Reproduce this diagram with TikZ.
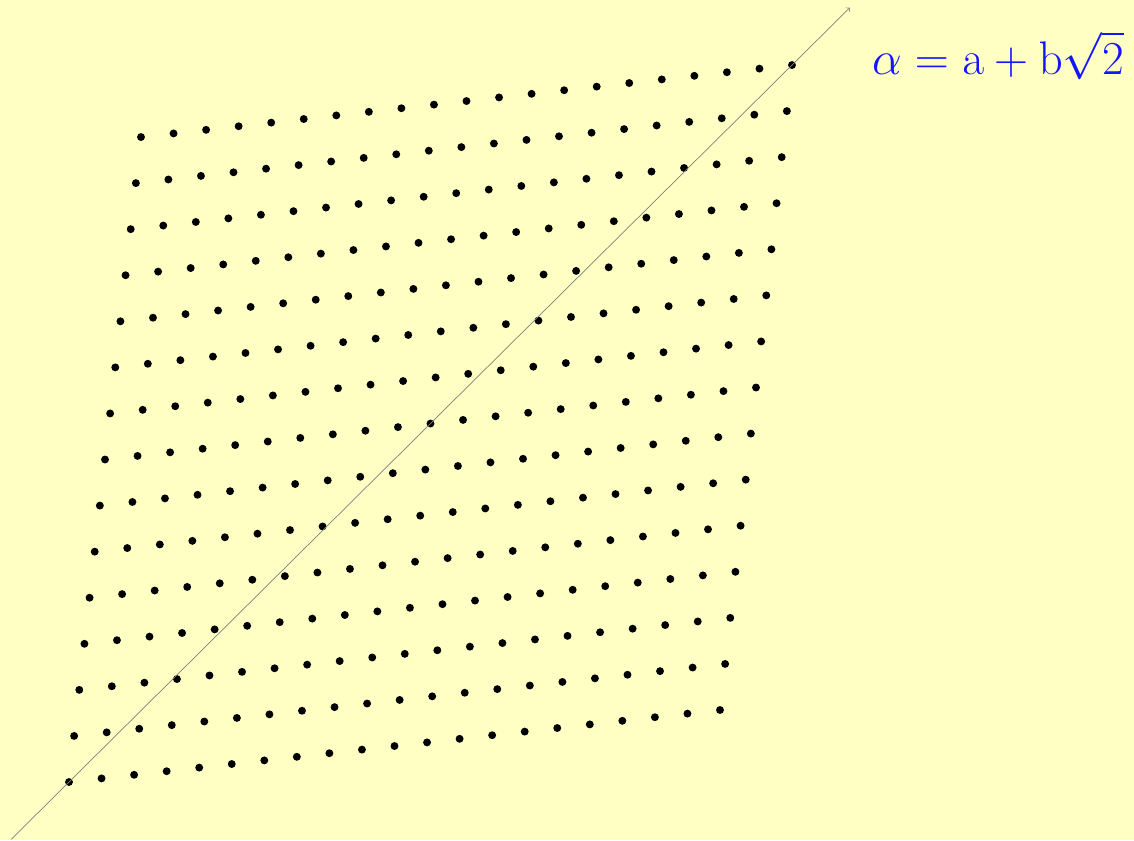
\documentclass[tikz,border=0pt]{standalone}
\usepackage{amsmath}
\usepackage{amssymb}
\usetikzlibrary{calc}

\begin{document}
\begin{tikzpicture}[x=0.02cm,y=-0.02cm]

    \definecolor{paleyellow}{RGB}{255,255,196}
    \definecolor{rootblue}{RGB}{20,20,255}
    \tikzset{latpt/.style={circle,fill=black,inner sep=0pt,minimum size=4.5pt}}

    % Background of the slide
    \fill[paleyellow] (0,0) rectangle (1134,840);

    % Draw the lattice points a + b sqrt(2)
    \foreach \i in {0,...,20}
        \foreach \j in {0,...,14}
            \node[latpt] (p-\i-\j) at (69+32.55*\i+5.143*\j, 782-3.6*\i-46.07*\j) {};

    % Draw the diagonal through the two corner points
    \coordinate (lo) at ($(p-0-0)!-0.08!(p-20-14)$);
    \coordinate (hi) at ($(p-0-0)!1.08!(p-20-14)$);
    \draw[gray, thin, ->] (lo) -- (hi);

    % Draw the label
    \node[rootblue, anchor=base, inner sep=0pt] (lbl) at (998,74)
        {\scalebox{1.08}{\Huge $\alpha = \mathrm{a} + \mathrm{b}\sqrt{2}$}};

\end{tikzpicture}
\end{document}
